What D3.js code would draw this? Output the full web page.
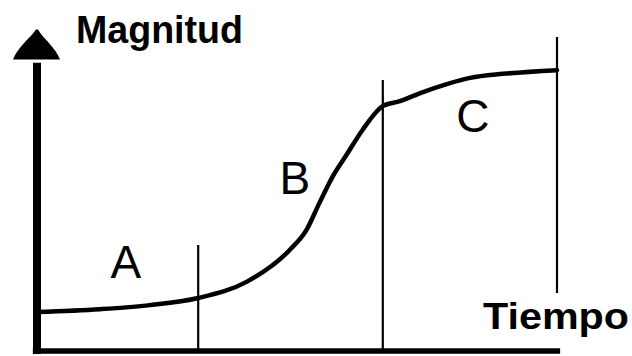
<!DOCTYPE html>
<html>
<head>
<meta charset="utf-8">
<script src="https://cdn.jsdelivr.net/npm/d3@7"></script>
<style>
html,body{margin:0;padding:0;background:#fff;}
svg{display:block;}
</style>
</head>
<body>
<svg id="chart" width="632" height="356"></svg>
<script>
// Data (time, magnitude)
const curveTime = [0, 1.21, 2.17, 3.1, 4.03, 4.86, 5.18, 5.43, 5.68, 5.95, 6.26, 6.65, 6.98, 7.37, 7.88, 8.33, 8.96, 10];
const curveMag  = [1.26, 1.35, 1.48, 1.71, 2.23, 3.26, 3.9, 4.77, 5.61, 6.32, 7.13, 7.9, 8.06, 8.32, 8.61, 8.81, 8.94, 9.06];
const phaseLabels = ["A", "B", "C"];
const phaseLabelTime = [1.71, 4.96, 8.38];
const phaseLabelMag = [2.35, 5.06, 7.06];
const boundaryTime = [3.1, 6.65, 10];
const boundaryTop = [3.42, 8.74, 10.13];
const boundaryBottom = [0, 0, 1.87];
const axisTitles = ["Magnitud", "Tiempo"];

const svg = d3.select("#chart");
const x = d3.scaleLinear().domain([0, 10]).range([37, 557]);
const y = d3.scaleLinear().domain([0, 10]).range([351, 41]);

// boundary lines
svg.selectAll("line.b").data(boundaryTime).enter().append("line")
  .attr("class", "b")
  .attr("x1", d => x(d)).attr("x2", d => x(d))
  .attr("y1", (d, i) => y(boundaryTop[i])).attr("y2", (d, i) => y(boundaryBottom[i]))
  .attr("stroke", "#000").attr("stroke-width", 2.2);

// curve
const pts = curveTime.map((t, i) => [t, curveMag[i]]);
svg.append("path").datum(pts)
  .attr("d", d3.line().x(d => x(d[0])).y(d => y(d[1])).curve(d3.curveMonotoneX))
  .attr("fill", "none").attr("stroke", "#000").attr("stroke-width", 4.5)
  .attr("stroke-linecap", "round");

// axes
svg.append("line")
  .attr("x1", x(-0.08)).attr("x2", x(10.06))
  .attr("y1", y(0)).attr("y2", y(0))
  .attr("stroke", "#000").attr("stroke-width", 5.5);
svg.append("line")
  .attr("x1", x(0)).attr("x2", x(0))
  .attr("y1", y(-0.1)).attr("y2", y(9.3))
  .attr("stroke", "#000").attr("stroke-width", 8);
// arrow head
const ax = x(0), at = y(10.37), ab = y(9.4);
svg.append("path")
  .attr("d", `M${ax - 1},${at} C${ax - 6},${at + 8} ${ax - 20},${ab - 12} ${ax - 24},${ab} L${ax + 23},${ab} C${ax + 19},${ab - 12} ${ax + 5},${at + 8} ${ax + 1},${at} Z`)
  .attr("fill", "#000");

// phase labels
svg.selectAll("text.p").data(phaseLabels).enter().append("text")
  .attr("class", "p")
  .attr("x", (d, i) => x(phaseLabelTime[i]))
  .attr("y", (d, i) => y(phaseLabelMag[i]))
  .attr("text-anchor", "middle")
  .attr("font-family", "Liberation Sans, Arial, sans-serif")
  .attr("font-size", 46)
  .attr("fill", "#000")
  .text(d => d);

// axis titles
svg.append("text").attr("x", 76).attr("y", 43)
  .attr("font-family", "Liberation Sans, Arial, sans-serif")
  .attr("font-weight", "bold").attr("font-size", 38)
  .attr("textLength", 167).attr("lengthAdjust", "spacingAndGlyphs")
  .attr("fill", "#000").text(axisTitles[0]);
svg.append("text").attr("x", 483).attr("y", 329)
  .attr("font-family", "Liberation Sans, Arial, sans-serif")
  .attr("font-weight", "bold").attr("font-size", 36)
  .attr("textLength", 146).attr("lengthAdjust", "spacingAndGlyphs")
  .attr("fill", "#000").text(axisTitles[1]);
</script>
</body>
</html>
